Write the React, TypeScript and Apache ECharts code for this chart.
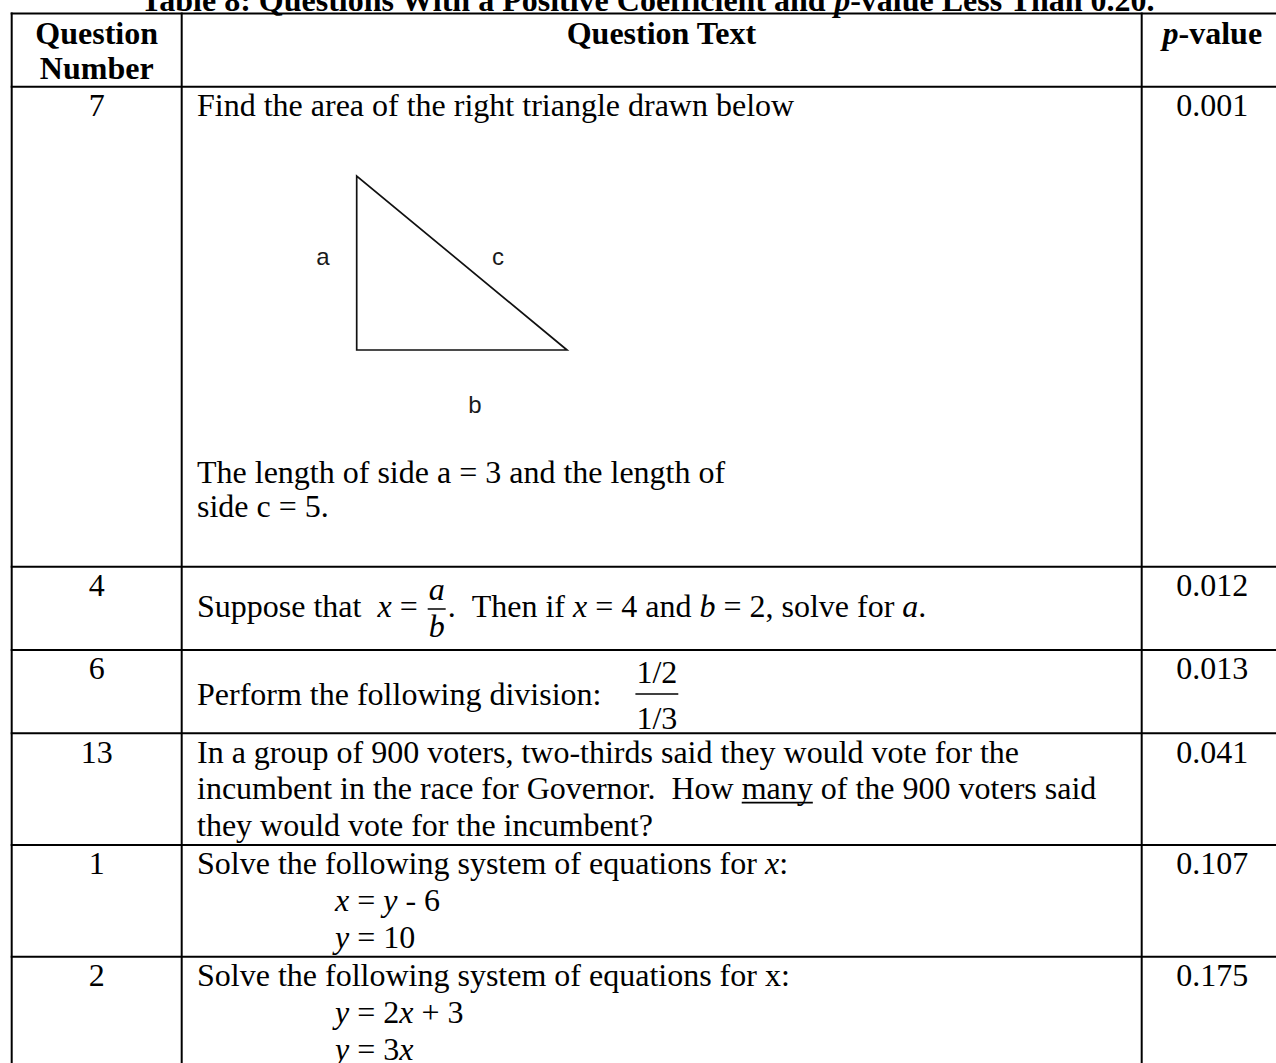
import React, { useEffect, useRef } from "react";
import * as echarts from "echarts";

// ---------- content ----------
type Run = { t: string; i?: boolean; b?: boolean; u?: boolean };

const TITLE_RUNS: Run[] = [
  { t: "Table 8: Questions With a Positive Coefficient and ", b: true },
  { t: "p", b: true, i: true },
  { t: "-value Less Than 0.20.", b: true },
];
const HEADER_COL1 = ["Question", "Number"];
const HEADER_COL2 = "Question Text";
const HEADER_COL3: Run[] = [
  { t: "p", b: true, i: true },
  { t: "-value", b: true },
];
const QUESTION_NUMBERS = ["7", "4", "6", "13", "1", "2"];
const P_VALUES = ["0.001", "0.012", "0.013", "0.041", "0.107", "0.175"];

const Q7_INTRO = "Find the area of the right triangle drawn below";
const Q7_LABELS = ["a", "c", "b"];
const Q7_SIDES = ["The length of side a = 3 and the length of", "side c = 5."];

const Q4_BEFORE: Run[] = [{ t: "Suppose that  " }, { t: "x", i: true }, { t: " = " }];
const Q4_NUM: Run = { t: "a", i: true };
const Q4_DEN: Run = { t: "b", i: true };
const Q4_AFTER: Run[] = [
  { t: ".  Then if " },
  { t: "x", i: true },
  { t: " = 4 and " },
  { t: "b", i: true },
  { t: " = 2, solve for " },
  { t: "a", i: true },
  { t: "." },
];

const Q6_BEFORE: Run[] = [{ t: "Perform the following division:    " }];
const Q6_NUM: Run = { t: "1/2" };
const Q6_DEN: Run = { t: "1/3" };

const Q13_LINES: Run[][] = [
  [{ t: "In a group of 900 voters, two-thirds said they would vote for the" }],
  [
    { t: "incumbent in the race for Governor.  How " },
    { t: "many", u: true },
    { t: " of the 900 voters said" },
  ],
  [{ t: "they would vote for the incumbent?" }],
];

const Q1_LINES: Run[][] = [
  [{ t: "Solve the following system of equations for " }, { t: "x", i: true }, { t: ":" }],
];
const Q1_EQS: Run[][] = [
  [{ t: "x", i: true }, { t: " = " }, { t: "y", i: true }, { t: " - 6" }],
  [{ t: "y", i: true }, { t: " = 10" }],
];
const Q2_LINES: Run[][] = [[{ t: "Solve the following system of equations for x:" }]];
const Q2_EQS: Run[][] = [
  [{ t: "y", i: true }, { t: " = 2" }, { t: "x", i: true }, { t: " + 3" }],
  [{ t: "y", i: true }, { t: " = 3" }, { t: "x", i: true }],
];

// ---------- layout ----------
const W = 1276;
const H = 1063;
const FONT = '"Liberation Serif", "Times New Roman", serif';
const LABEL_FONT = '"Liberation Sans", Arial, sans-serif';
const SIZE = 32;
const LH = 36.8;
const BASE = 29;
const TOP = 13.5;
const HLINES = [TOP, 86.7, 566.7, 650, 733.3, 845, 956.7];
const VLINES = [11.7, 181.7, 1141.7, 1283];
const TX = 197;
const EQX = 335;

let ctx: CanvasRenderingContext2D | null = null;
function fontStr(r: Run, size: number) {
  return `${r.i ? "italic " : ""}${r.b ? "bold " : ""}${size}px ${FONT}`;
}
function meas(t: string, r: Run, size: number) {
  if (!ctx) ctx = document.createElement("canvas").getContext("2d");
  ctx!.font = fontStr(r, size);
  return ctx!.measureText(t).width;
}
function textEl(x: number, baseline: number, t: string, r: Run, size: number, fill = "#000", family?: string) {
  const font = family ? `${size}px ${family}` : fontStr(r, size);
  return {
    type: "text",
    x,
    y: baseline - 0.3375 * size,
    silent: true,
    style: {
      text: t,
      font,
      fill,
      align: "left",
      verticalAlign: "middle",
      textAlign: "left",
      textVerticalAlign: "middle",
    },
  };
}
function place(x: number, baseline: number, run: Run, size: number, out: any[]) {
  const parts = run.t.split(/(\s{2,})/);
  let cx = x;
  for (const p of parts) {
    if (p.length && p.trim().length) {
      const lead = p.length - p.trimStart().length;
      const leadW = lead ? meas(p.slice(0, lead), run, size) : 0;
      out.push(textEl(cx + leadW, baseline, p.trim(), run, size));
    }
    cx += meas(p, run, size);
  }
  if (run.u) {
    out.push({
      type: "line",
      silent: true,
      shape: { x1: x, y1: baseline + 3.5, x2: cx, y2: baseline + 3.5 },
      style: { stroke: "#000", lineWidth: 1.6 },
    });
  }
  return cx;
}
function runsWidth(runs: Run[], size: number) {
  return runs.reduce((s, r) => s + meas(r.t, r, size), 0);
}
function layoutRuns(x: number, baseline: number, runs: Run[], size: number, out: any[], align = "left") {
  let cx = x;
  if (align === "center") cx = x - runsWidth(runs, size) / 2;
  for (const r of runs) cx = place(cx, baseline, r, size, out);
  return cx;
}
function fraction(x: number, num: Run, den: Run, numBase: number, bar: number, denBase: number, out: any[], pad = 3) {
  const wn = meas(num.t, num, SIZE);
  const wd = meas(den.t, den, SIZE);
  const wmax = Math.max(wn, wd);
  const cx = x + pad + wmax / 2;
  layoutRuns(cx, numBase, [num], SIZE, out, "center");
  layoutRuns(cx, denBase, [den], SIZE, out, "center");
  out.push({
    type: "line",
    silent: true,
    shape: { x1: x + pad - 1, y1: bar, x2: x + pad + wmax + 1, y2: bar },
    style: { stroke: "#000", lineWidth: 1.5 },
  });
  return x + pad * 2 + wmax;
}

function buildGraphics() {
  const out: any[] = [];
  out.push({ type: "rect", silent: true, shape: { x: 0, y: 0, width: W, height: H }, style: { fill: "#fff" } });

  // title (its upper part lies above the page edge, as in the reference)
  layoutRuns(648, 11, TITLE_RUNS, SIZE, out, "center");

  // grid lines
  for (const y of HLINES) {
    out.push({ type: "line", silent: true, shape: { x1: VLINES[0] - 1, y1: y, x2: W + 10, y2: y }, style: { stroke: "#000", lineWidth: 2 } });
  }
  for (const x of VLINES) {
    out.push({ type: "line", silent: true, shape: { x1: x, y1: TOP - 1, x2: x, y2: H + 10 }, style: { stroke: "#000", lineWidth: 2 } });
  }

  const c1 = (VLINES[0] + VLINES[1]) / 2;
  const c2 = (VLINES[1] + VLINES[2]) / 2;
  const c3 = (VLINES[2] + VLINES[3]) / 2;

  // header
  HEADER_COL1.forEach((t, k) => layoutRuns(c1, 44 + k * 34.5, [{ t, b: true }], SIZE, out, "center"));
  layoutRuns(c2, 44, [{ t: HEADER_COL2, b: true }], SIZE, out, "center");
  layoutRuns(c3, 44, HEADER_COL3, SIZE, out, "center");

  // numbers and p-values
  QUESTION_NUMBERS.forEach((q, k) => {
    const top = HLINES[k + 1];
    layoutRuns(c1, top + BASE, [{ t: q }], SIZE, out, "center");
    layoutRuns(c3, top + BASE, [{ t: P_VALUES[k] }], SIZE, out, "center");
  });

  // row 7
  const r7 = HLINES[1] + BASE;
  layoutRuns(TX, r7, [{ t: Q7_INTRO }], SIZE, out);
  out.push({
    type: "polygon",
    silent: true,
    shape: { points: [[356.7, 176], [356.7, 350], [567, 350]] },
    style: { fill: "none", stroke: "#111", lineWidth: 1.7 },
  });
  const labelPos = [[323, 265], [498, 265], [475, 413]];
  Q7_LABELS.forEach((t, k) => {
    const el: any = textEl(labelPos[k][0], labelPos[k][1], t, {}, 24, "#1a1a1a", LABEL_FONT);
    el.style.align = "center";
    el.style.textAlign = "center";
    out.push(el);
  });
  const sideBase = [483, 517];
  Q7_SIDES.forEach((t, k) => layoutRuns(TX, sideBase[k], [{ t }], SIZE, out));

  // row 4
  const r4 = 617;
  let x = layoutRuns(TX, r4, Q4_BEFORE, SIZE, out);
  x = fraction(x, Q4_NUM, Q4_DEN, 600, 609, 637, out);
  layoutRuns(x, r4, Q4_AFTER, SIZE, out);

  // row 6
  const r6 = 705;
  x = layoutRuns(TX, r6, Q6_BEFORE, SIZE, out);
  fraction(x, Q6_NUM, Q6_DEN, 683, 694, 729, out, 3);

  // row 13
  Q13_LINES.forEach((runs, k) => layoutRuns(TX, HLINES[4] + BASE + k * LH, runs, SIZE, out));

  // row 1
  const r1 = HLINES[5] + BASE;
  Q1_LINES.forEach((runs, k) => layoutRuns(TX, r1 + k * LH, runs, SIZE, out));
  Q1_EQS.forEach((runs, k) => layoutRuns(EQX, r1 + (k + 1) * LH, runs, SIZE, out));

  // row 2
  const r2 = HLINES[6] + BASE;
  Q2_LINES.forEach((runs, k) => layoutRuns(TX, r2 + k * LH, runs, SIZE, out));
  Q2_EQS.forEach((runs, k) => layoutRuns(EQX, r2 + (k + 1) * LH, runs, SIZE, out));

  return out;
}

export default function App() {
  const ref = useRef<HTMLDivElement>(null);
  useEffect(() => {
    if (!ref.current) return;
    const chart = echarts.init(ref.current, undefined, { renderer: "svg", width: W, height: H });
    chart.setOption({
      animation: false,
      backgroundColor: "#fff",
      graphic: { elements: buildGraphics() },
    });
    return () => chart.dispose();
  }, []);
  return (
    <div
      ref={ref}
      style={{ position: "absolute", left: 0, top: 0, width: W, height: H, background: "#fff", overflow: "hidden" }}
    />
  );
}
